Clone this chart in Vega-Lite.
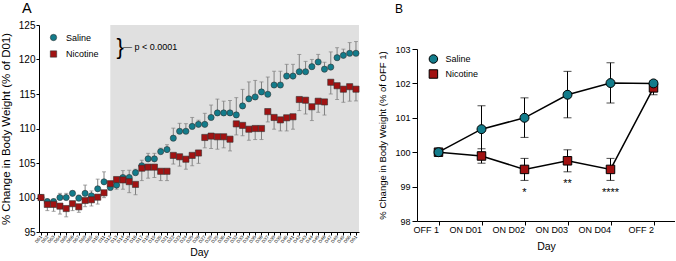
{
  "$schema": "https://vega.github.io/schema/vega-lite/v6.json",
  "padding": {"left": 0, "top": 0, "right": 0, "bottom": 0},
  "config": {
    "font": "Liberation Sans",
    "view": {"stroke": null},
    "axis": {"domainColor": "#000", "tickColor": "#000", "labelColor": "#000", "titleColor": "#000", "grid": false, "titleFontWeight": "normal", "labelFont": "Liberation Sans", "titleFont": "Liberation Sans", "labelOverlap": false, "tickCount": 100},
    "legend": {"labelFont": "Liberation Sans", "labelColor": "#000", "padding": 0},
    "title": {"font": "Liberation Sans", "fontWeight": "normal", "color": "#000"}
  },
  "spacing": 16,
  "resolve": {"scale": {"color": "independent", "shape": "independent"}, "legend": {"color": "independent", "shape": "independent"}},
  "hconcat": [
    {
      "width": 320,
      "height": 207,
      "title": {"text": "A", "anchor": "start", "frame": "group", "dx": -17, "fontSize": 14.5, "offset": 4},
      "layer": [
        {
          "data": {"values": [{"start": 12, "end": 51.48}]},
          "mark": {"type": "rect", "color": "#e0e0e0"},
          "encoding": {
            "x": {"field": "start", "type": "quantitative", "scale": {"domain": [0.68, 51.48], "nice": false, "zero": false},
              "axis": {"values": [1,2,3,4,5,6,7,8,9,10,11,12,13,14,15,16,17,18,19,20,21,22,23,24,25,26,27,28,29,30,31,32,33,34,35,36,37,38,39,40,41,42,43,44,45,46,47,48,49,50,51], "tickCount": 100,
                "labelExpr": "'D' + (datum.value < 10 ? '0' : '') + datum.value", "labelAngle": -50, "labelFontSize": 4.5, "labelPadding": 1, "tickSize": 3, "title": "Day", "titleFontSize": 10.5, "titlePadding": 4, "labelOverlap": false, "labelFlush": false}},
            "x2": {"field": "end"},
            "y": {"datum": 95, "type": "quantitative", "axis": {"title": "% Change in Body Weight (% of D01)", "format": "d"}},
            "y2": {"datum": 125}
          }
        },
        {
          "data": {"name": "a"},
          "mark": {"type": "rule", "color": "#808080", "strokeWidth": 1},
          "encoding": {
            "x": {"field": "day", "type": "quantitative",
              "axis": {"values": [1,2,3,4,5,6,7,8,9,10,11,12,13,14,15,16,17,18,19,20,21,22,23,24,25,26,27,28,29,30,31,32,33,34,35,36,37,38,39,40,41,42,43,44,45,46,47,48,49,50,51], "tickCount": 100,
                "labelExpr": "'D' + (datum.value < 10 ? '0' : '') + datum.value", "labelAngle": -50, "labelFontSize": 4.5, "labelPadding": 1, "tickSize": 3, "title": "Day", "titleFontSize": 10.5, "titlePadding": 4, "labelOverlap": false, "labelFlush": false}},
            "y": {"field": "mean", "type": "quantitative", "axis": {"title": "% Change in Body Weight (% of D01)", "format": "d"}},
            "y2": {"field": "end"}
          }
        },
        {
          "data": {"name": "a"},
          "mark": {"type": "tick", "color": "#808080", "orient": "horizontal", "size": 4, "thickness": 1},
          "encoding": {
            "x": {"field": "day", "type": "quantitative",
              "axis": {"values": [1,2,3,4,5,6,7,8,9,10,11,12,13,14,15,16,17,18,19,20,21,22,23,24,25,26,27,28,29,30,31,32,33,34,35,36,37,38,39,40,41,42,43,44,45,46,47,48,49,50,51], "tickCount": 100,
                "labelExpr": "'D' + (datum.value < 10 ? '0' : '') + datum.value", "labelAngle": -50, "labelFontSize": 4.5, "labelPadding": 1, "tickSize": 3, "title": "Day", "titleFontSize": 10.5, "titlePadding": 4, "labelOverlap": false, "labelFlush": false}},
            "y": {"field": "end", "type": "quantitative", "axis": {"title": "% Change in Body Weight (% of D01)", "format": "d"}}
          }
        },
        {
          "data": {"name": "a"},
          "mark": {"type": "point", "filled": true, "opacity": 1, "size": 38, "stroke": "#333", "strokeWidth": 0.6},
          "encoding": {
            "x": {"field": "day", "type": "quantitative",
              "axis": {"values": [1,2,3,4,5,6,7,8,9,10,11,12,13,14,15,16,17,18,19,20,21,22,23,24,25,26,27,28,29,30,31,32,33,34,35,36,37,38,39,40,41,42,43,44,45,46,47,48,49,50,51], "tickCount": 100,
                "labelExpr": "'D' + (datum.value < 10 ? '0' : '') + datum.value", "labelAngle": -50, "labelFontSize": 4.5, "labelPadding": 1, "tickSize": 3, "title": "Day", "titleFontSize": 10.5, "titlePadding": 4, "labelOverlap": false, "labelFlush": false}},
            "y": {"field": "mean", "type": "quantitative", "scale": {"domain": [95, 125], "nice": false, "zero": false},
              "axis": {"values": [95, 100, 105, 110, 115, 120, 125], "format": "d", "tickCount": 100, "tickSize": 3, "labelFontSize": 10, "labelPadding": 1, "labelOverlap": false, "title": "% Change in Body Weight (% of D01)", "titleFontSize": 11.5, "titlePadding": 7}},
            "shape": {"field": "group", "type": "nominal", "scale": {"domain": ["Saline", "Nicotine"], "range": ["circle", "square"]},
              "legend": {"orient": "none", "legendX": 10, "legendY": 8, "title": null, "labelFontSize": 9, "symbolSize": 40, "rowPadding": 6.5, "labelOffset": 8, "symbolStrokeColor": "#333", "symbolStrokeWidth": 0.6}},
            "color": {"field": "group", "type": "nominal", "scale": {"domain": ["Saline", "Nicotine"], "range": ["#137c8b", "#a11212"]}}
          }
        },
        {
          "data": {"values": [{"x": 13.55, "y": 121.85, "t": "}"}]},
          "mark": {"type": "text", "fontSize": 22, "baseline": "middle", "align": "center", "color": "#000"},
          "encoding": {"x": {"field": "x", "type": "quantitative"}, "y": {"field": "y", "type": "quantitative"}, "text": {"field": "t"}}
        },
        {
          "data": {"values": [{"x": 14.0, "y": 121.85, "t": "— p < 0.0001"}]},
          "mark": {"type": "text", "fontSize": 9, "baseline": "middle", "align": "left", "color": "#000"},
          "encoding": {"x": {"field": "x", "type": "quantitative"}, "y": {"field": "y", "type": "quantitative"}, "text": {"field": "t"}}
        }
      ]
    },
    {
      "spacing": 0,
      "resolve": {"scale": {"color": "independent", "shape": "independent"}, "legend": {"color": "independent", "shape": "independent"}},
      "vconcat": [
        {
          "width": 258,
          "height": 19.5,
          "title": {"text": "B", "anchor": "start", "frame": "group", "dx": -22, "fontSize": 12, "offset": 9.5},
          "data": {"values": [{"t": ""}]},
          "mark": {"type": "text"},
          "encoding": {"text": {"field": "t"}}
        },
        {
          "width": 258,
          "height": 172,
          "data": {"name": "b"},
          "layer": [
            {
              "mark": {"type": "errorbar", "color": "#000", "ticks": {"size": 8, "color": "#000"}, "rule": {"strokeWidth": 1}},
              "encoding": {
                "x": {"field": "day", "type": "ordinal", "sort": ["OFF 1", "ON D01", "ON D02", "ON D03", "ON D04", "OFF 2"], "title": "Day"},
                "y": {"field": "lo", "type": "quantitative", "title": "% Change in Body Weight (% of OFF 1)", "axis": {"format": "d"}},
                "y2": {"field": "hi"},
                "detail": {"field": "group"}
              }
            },
            {
              "mark": {"type": "line", "color": "#000", "strokeWidth": 1.5},
              "encoding": {
                "x": {"field": "day", "type": "ordinal", "sort": ["OFF 1", "ON D01", "ON D02", "ON D03", "ON D04", "OFF 2"], "title": "Day"},
                "y": {"field": "mean", "type": "quantitative", "title": "% Change in Body Weight (% of OFF 1)", "axis": {"format": "d"}},
                "detail": {"field": "group"}
              }
            },
            {
              "transform": [{"filter": "datum.group == 'Nicotine'"}],
              "mark": {"type": "point", "filled": true, "opacity": 1, "size": 72, "stroke": "#000", "strokeWidth": 1},
              "encoding": {
                "x": {"field": "day", "type": "ordinal", "sort": ["OFF 1", "ON D01", "ON D02", "ON D03", "ON D04", "OFF 2"], "title": "Day"},
                "y": {"field": "mean", "type": "quantitative", "title": "% Change in Body Weight (% of OFF 1)", "axis": {"format": "d"}},
                "shape": {"field": "group", "type": "nominal", "scale": {"domain": ["Saline", "Nicotine"], "range": ["circle", "square"]}},
                "color": {"field": "group", "type": "nominal", "scale": {"domain": ["Saline", "Nicotine"], "range": ["#137c8b", "#a11212"]}}
              }
            },
            {
              "transform": [{"filter": "datum.group == 'Saline'"}],
              "mark": {"type": "point", "filled": true, "opacity": 1, "size": 80, "stroke": "#000", "strokeWidth": 1},
              "encoding": {
                "x": {"field": "day", "type": "ordinal", "sort": ["OFF 1", "ON D01", "ON D02", "ON D03", "ON D04", "OFF 2"],
                  "scale": {"type": "point", "padding": 0.5},
                  "axis": {"labelAngle": 0, "labelFontSize": 9, "tickSize": 4, "labelPadding": 4, "title": "Day", "titleFontSize": 10.5, "titlePadding": 7}},
                "y": {"field": "mean", "type": "quantitative", "scale": {"domain": [98, 103], "nice": false, "zero": false},
                  "axis": {"values": [98, 99, 100, 101, 102, 103], "format": "d", "tickCount": 100, "tickSize": 5, "labelFontSize": 9, "labelPadding": 2, "labelOverlap": false, "title": "% Change in Body Weight (% of OFF 1)", "titleFontSize": 9.5, "titlePadding": 7}},
                "shape": {"field": "group", "type": "nominal", "scale": {"domain": ["Saline", "Nicotine"], "range": ["circle", "square"]},
                  "legend": {"orient": "none", "legendX": 11.4, "legendY": 5, "title": null, "labelFontSize": 9, "symbolSize": 72, "rowPadding": 1, "labelOffset": 7, "symbolStrokeColor": "#000", "symbolStrokeWidth": 1}},
                "color": {"field": "group", "type": "nominal", "scale": {"domain": ["Saline", "Nicotine"], "range": ["#137c8b", "#a11212"]}}
              }
            },
            {
              "data": {"values": [{"day": "ON D02", "y": 98.9, "t": "*"}, {"day": "ON D03", "y": 99.17, "t": "**"}, {"day": "ON D04", "y": 98.9, "t": "****"}]},
              "mark": {"type": "text", "fontSize": 11, "baseline": "middle", "align": "center", "color": "#000", "dy": 3},
              "encoding": {
                "x": {"field": "day", "type": "ordinal", "sort": ["OFF 1", "ON D01", "ON D02", "ON D03", "ON D04", "OFF 2"], "title": "Day"},
                "y": {"field": "y", "type": "quantitative", "title": "% Change in Body Weight (% of OFF 1)", "axis": {"format": "d"}},
                "text": {"field": "t"}
              }
            }
          ]
        }
      ]
    }
  ],
  "datasets": {
    "a": [
      {"day": 1, "group": "Saline", "mean": 100.0, "end": 100.0},
      {"day": 2, "group": "Saline", "mean": 99.4, "end": 99.8},
      {"day": 3, "group": "Saline", "mean": 99.4, "end": 99.8},
      {"day": 4, "group": "Saline", "mean": 100.0, "end": 100.6},
      {"day": 5, "group": "Saline", "mean": 100.0, "end": 100.6},
      {"day": 6, "group": "Saline", "mean": 100.6, "end": 100.95},
      {"day": 7, "group": "Saline", "mean": 99.9, "end": 100.35},
      {"day": 8, "group": "Saline", "mean": 100.6, "end": 101.8},
      {"day": 9, "group": "Saline", "mean": 100.25, "end": 100.95},
      {"day": 10, "group": "Saline", "mean": 101.26, "end": 102.66},
      {"day": 11, "group": "Saline", "mean": 102.27, "end": 103.72},
      {"day": 12, "group": "Saline", "mean": 101.45, "end": 102.15},
      {"day": 13, "group": "Saline", "mean": 101.8, "end": 102.4},
      {"day": 14, "group": "Saline", "mean": 102.9, "end": 103.9},
      {"day": 15, "group": "Saline", "mean": 102.9, "end": 103.95},
      {"day": 16, "group": "Saline", "mean": 103.6, "end": 104.1},
      {"day": 17, "group": "Saline", "mean": 104.6, "end": 105.4},
      {"day": 18, "group": "Saline", "mean": 105.6, "end": 106.4},
      {"day": 19, "group": "Saline", "mean": 105.6, "end": 106.4},
      {"day": 20, "group": "Saline", "mean": 106.65, "end": 107.15},
      {"day": 21, "group": "Saline", "mean": 106.95, "end": 107.65},
      {"day": 22, "group": "Saline", "mean": 108.6, "end": 110.05},
      {"day": 23, "group": "Saline", "mean": 109.6, "end": 110.75},
      {"day": 24, "group": "Saline", "mean": 109.6, "end": 110.7},
      {"day": 25, "group": "Saline", "mean": 110.3, "end": 111.6},
      {"day": 26, "group": "Saline", "mean": 110.6, "end": 111.2},
      {"day": 27, "group": "Saline", "mean": 110.6, "end": 112.2},
      {"day": 28, "group": "Saline", "mean": 111.6, "end": 113.4},
      {"day": 29, "group": "Saline", "mean": 112.26, "end": 114.26},
      {"day": 30, "group": "Saline", "mean": 112.26, "end": 113.96},
      {"day": 31, "group": "Saline", "mean": 112.26, "end": 114.06},
      {"day": 32, "group": "Saline", "mean": 111.97, "end": 114.47},
      {"day": 33, "group": "Saline", "mean": 113.27, "end": 115.67},
      {"day": 34, "group": "Saline", "mean": 114.3, "end": 116.75},
      {"day": 35, "group": "Saline", "mean": 114.57, "end": 116.97},
      {"day": 36, "group": "Saline", "mean": 115.3, "end": 116.75},
      {"day": 37, "group": "Saline", "mean": 114.96, "end": 117.46},
      {"day": 38, "group": "Saline", "mean": 116.3, "end": 118.3},
      {"day": 39, "group": "Saline", "mean": 116.3, "end": 118.3},
      {"day": 40, "group": "Saline", "mean": 117.6, "end": 119.3},
      {"day": 41, "group": "Saline", "mean": 117.6, "end": 119.3},
      {"day": 42, "group": "Saline", "mean": 118.23, "end": 120.73},
      {"day": 43, "group": "Saline", "mean": 118.23, "end": 119.73},
      {"day": 44, "group": "Saline", "mean": 118.96, "end": 120.01},
      {"day": 45, "group": "Saline", "mean": 119.64, "end": 120.74},
      {"day": 46, "group": "Saline", "mean": 118.6, "end": 119.6},
      {"day": 47, "group": "Saline", "mean": 118.9, "end": 121.1},
      {"day": 48, "group": "Saline", "mean": 120.26, "end": 121.71},
      {"day": 49, "group": "Saline", "mean": 120.6, "end": 121.5},
      {"day": 50, "group": "Saline", "mean": 120.9, "end": 122.45},
      {"day": 51, "group": "Saline", "mean": 120.9, "end": 122.6},
      {"day": 1, "group": "Nicotine", "mean": 100.0, "end": 100.0},
      {"day": 2, "group": "Nicotine", "mean": 99.0, "end": 98.1},
      {"day": 3, "group": "Nicotine", "mean": 99.0, "end": 98.0},
      {"day": 4, "group": "Nicotine", "mean": 98.75, "end": 97.6},
      {"day": 5, "group": "Nicotine", "mean": 98.4, "end": 97.2},
      {"day": 6, "group": "Nicotine", "mean": 99.1, "end": 98.1},
      {"day": 7, "group": "Nicotine", "mean": 98.65, "end": 97.85},
      {"day": 8, "group": "Nicotine", "mean": 99.57, "end": 98.67},
      {"day": 9, "group": "Nicotine", "mean": 99.67, "end": 98.77},
      {"day": 10, "group": "Nicotine", "mean": 100.05, "end": 99.05},
      {"day": 11, "group": "Nicotine", "mean": 100.68, "end": 99.98},
      {"day": 12, "group": "Nicotine", "mean": 102.0, "end": 101.4},
      {"day": 13, "group": "Nicotine", "mean": 102.6, "end": 101.2},
      {"day": 14, "group": "Nicotine", "mean": 102.55, "end": 101.2},
      {"day": 15, "group": "Nicotine", "mean": 102.3, "end": 100.7},
      {"day": 16, "group": "Nicotine", "mean": 101.9, "end": 100.4},
      {"day": 17, "group": "Nicotine", "mean": 104.25, "end": 102.45},
      {"day": 18, "group": "Nicotine", "mean": 104.4, "end": 102.8},
      {"day": 19, "group": "Nicotine", "mean": 104.4, "end": 102.9},
      {"day": 20, "group": "Nicotine", "mean": 103.8, "end": 102.45},
      {"day": 21, "group": "Nicotine", "mean": 103.8, "end": 102.45},
      {"day": 22, "group": "Nicotine", "mean": 106.1, "end": 104.85},
      {"day": 23, "group": "Nicotine", "mean": 105.9, "end": 104.55},
      {"day": 24, "group": "Nicotine", "mean": 105.55, "end": 104.1},
      {"day": 25, "group": "Nicotine", "mean": 106.1, "end": 104.6},
      {"day": 26, "group": "Nicotine", "mean": 106.45, "end": 104.95},
      {"day": 27, "group": "Nicotine", "mean": 108.7, "end": 107.2},
      {"day": 28, "group": "Nicotine", "mean": 108.9, "end": 107.1},
      {"day": 29, "group": "Nicotine", "mean": 108.8, "end": 107.0},
      {"day": 30, "group": "Nicotine", "mean": 108.8, "end": 107.2},
      {"day": 31, "group": "Nicotine", "mean": 108.45, "end": 106.75},
      {"day": 32, "group": "Nicotine", "mean": 110.67, "end": 109.07},
      {"day": 33, "group": "Nicotine", "mean": 110.45, "end": 108.95},
      {"day": 34, "group": "Nicotine", "mean": 109.9, "end": 108.3},
      {"day": 35, "group": "Nicotine", "mean": 110.0, "end": 108.4},
      {"day": 36, "group": "Nicotine", "mean": 110.0, "end": 108.4},
      {"day": 37, "group": "Nicotine", "mean": 112.45, "end": 110.95},
      {"day": 38, "group": "Nicotine", "mean": 111.6, "end": 109.9},
      {"day": 39, "group": "Nicotine", "mean": 111.25, "end": 109.65},
      {"day": 40, "group": "Nicotine", "mean": 111.55, "end": 109.65},
      {"day": 41, "group": "Nicotine", "mean": 111.7, "end": 109.9},
      {"day": 42, "group": "Nicotine", "mean": 114.2, "end": 112.6},
      {"day": 43, "group": "Nicotine", "mean": 114.1, "end": 112.1},
      {"day": 44, "group": "Nicotine", "mean": 113.15, "end": 111.15},
      {"day": 45, "group": "Nicotine", "mean": 113.95, "end": 112.35},
      {"day": 46, "group": "Nicotine", "mean": 113.85, "end": 111.95},
      {"day": 47, "group": "Nicotine", "mean": 116.7, "end": 115.0},
      {"day": 48, "group": "Nicotine", "mean": 116.2, "end": 114.2},
      {"day": 49, "group": "Nicotine", "mean": 115.7, "end": 113.8},
      {"day": 50, "group": "Nicotine", "mean": 116.06, "end": 113.96},
      {"day": 51, "group": "Nicotine", "mean": 115.7, "end": 114.0}
    ],
    "b": [
      {"day": "OFF 1", "group": "Saline", "mean": 100.0, "lo": 100.0, "hi": 100.0},
      {"day": "ON D01", "group": "Saline", "mean": 100.67, "lo": 100.0, "hi": 101.35},
      {"day": "ON D02", "group": "Saline", "mean": 101.0, "lo": 100.43, "hi": 101.58},
      {"day": "ON D03", "group": "Saline", "mean": 101.67, "lo": 101.0, "hi": 102.35},
      {"day": "ON D04", "group": "Saline", "mean": 102.01, "lo": 101.43, "hi": 102.6},
      {"day": "OFF 2", "group": "Saline", "mean": 102.0, "lo": 101.95, "hi": 102.05},
      {"day": "OFF 1", "group": "Nicotine", "mean": 100.0, "lo": 100.0, "hi": 100.0},
      {"day": "ON D01", "group": "Nicotine", "mean": 99.89, "lo": 99.68, "hi": 100.1},
      {"day": "ON D02", "group": "Nicotine", "mean": 99.5, "lo": 99.18, "hi": 99.82},
      {"day": "ON D03", "group": "Nicotine", "mean": 99.75, "lo": 99.43, "hi": 100.07},
      {"day": "ON D04", "group": "Nicotine", "mean": 99.5, "lo": 99.18, "hi": 99.82},
      {"day": "OFF 2", "group": "Nicotine", "mean": 101.87, "lo": 101.67, "hi": 102.07}
    ]
  }
}
